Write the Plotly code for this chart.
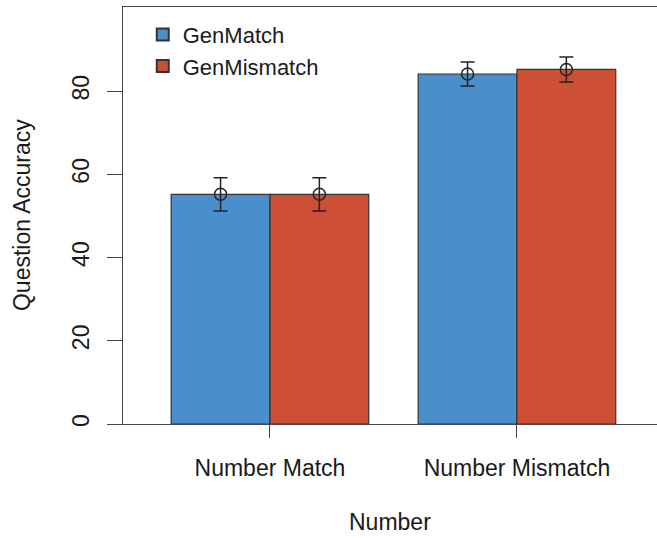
import plotly.graph_objects as go

# Data
groups = ["Number Match", "Number Mismatch"]
series_names = ["GenMatch", "GenMismatch"]
gen_match = [55.2, 84.1]
gen_mismatch = [55.2, 85.2]
gen_match_err = [4.0, 2.9]
gen_mismatch_err = [4.0, 3.0]
y_ticks = [0, 20, 40, 60, 80]

colors = ["#4A8FCB", "#CD4F36"]
edge = "#333333"
axis_col = "#444444"
font_family = "Liberation Sans, Arial, sans-serif"
fsize = 23

group_pos = list(range(len(groups)))
bar_w = 0.4
offsets = [-bar_w / 2, bar_w / 2]

fig = go.Figure()
series = [
    (series_names[0], gen_match, gen_match_err),
    (series_names[1], gen_mismatch, gen_mismatch_err),
]
for i, (name, vals, errs) in enumerate(series):
    xs = [p + offsets[i] for p in group_pos]
    fig.add_trace(go.Bar(
        x=xs, y=vals, width=bar_w, name=name,
        marker=dict(color=colors[i], line=dict(color=edge, width=1.2)),
    ))
for i, (name, vals, errs) in enumerate(series):
    xs = [p + offsets[i] for p in group_pos]
    fig.add_trace(go.Scatter(
        x=xs, y=vals, mode="markers", showlegend=False,
        marker=dict(symbol="circle-open", size=12, color="#222222",
                    line=dict(width=1.5)),
        error_y=dict(type="data", array=errs, visible=True,
                     color="#222222", thickness=1.5, width=7),
    ))

fig.update_layout(
    width=657, height=538,
    margin=dict(l=123, r=0, t=7, b=114),
    plot_bgcolor="white", paper_bgcolor="white",
    font=dict(family=font_family, size=fsize, color="#1a1a1a"),
    showlegend=True,
    legend=dict(x=0.037, y=0.984, xanchor="left", yanchor="top",
                bgcolor="rgba(0,0,0,0)", font=dict(size=22),
                itemsizing="constant", tracegroupgap=0),
    xaxis=dict(
        range=[-0.595, 1.567], tickmode="array", tickvals=group_pos,
        ticktext=groups, ticks="outside", ticklen=13, tickwidth=1.3,
        tickcolor=axis_col, showline=True, linecolor=axis_col, linewidth=1.3,
        mirror=True, showgrid=False, zeroline=False, ticklabelstandoff=10,
    ),
    yaxis=dict(
        range=[0, 100.2], tickmode="array", tickvals=y_ticks,
        ticks="outside", ticklen=15, tickwidth=1.3, tickcolor=axis_col,
        showline=True, linecolor=axis_col, linewidth=1.3, showgrid=False,
        zeroline=False, tickangle=-90, ticklabelstandoff=9,
    ),
    annotations=[
        dict(text="Number", xref="paper", yref="paper", x=0.5, y=-0.235,
             xanchor="center", yanchor="middle", showarrow=False,
             font=dict(size=fsize)),
        dict(text="Question Accuracy", xref="paper", yref="paper",
             x=-0.19, y=0.5, xanchor="center", yanchor="middle",
             textangle=-90, showarrow=False, font=dict(size=fsize)),
    ],
)

fig.write_html("out.html")
